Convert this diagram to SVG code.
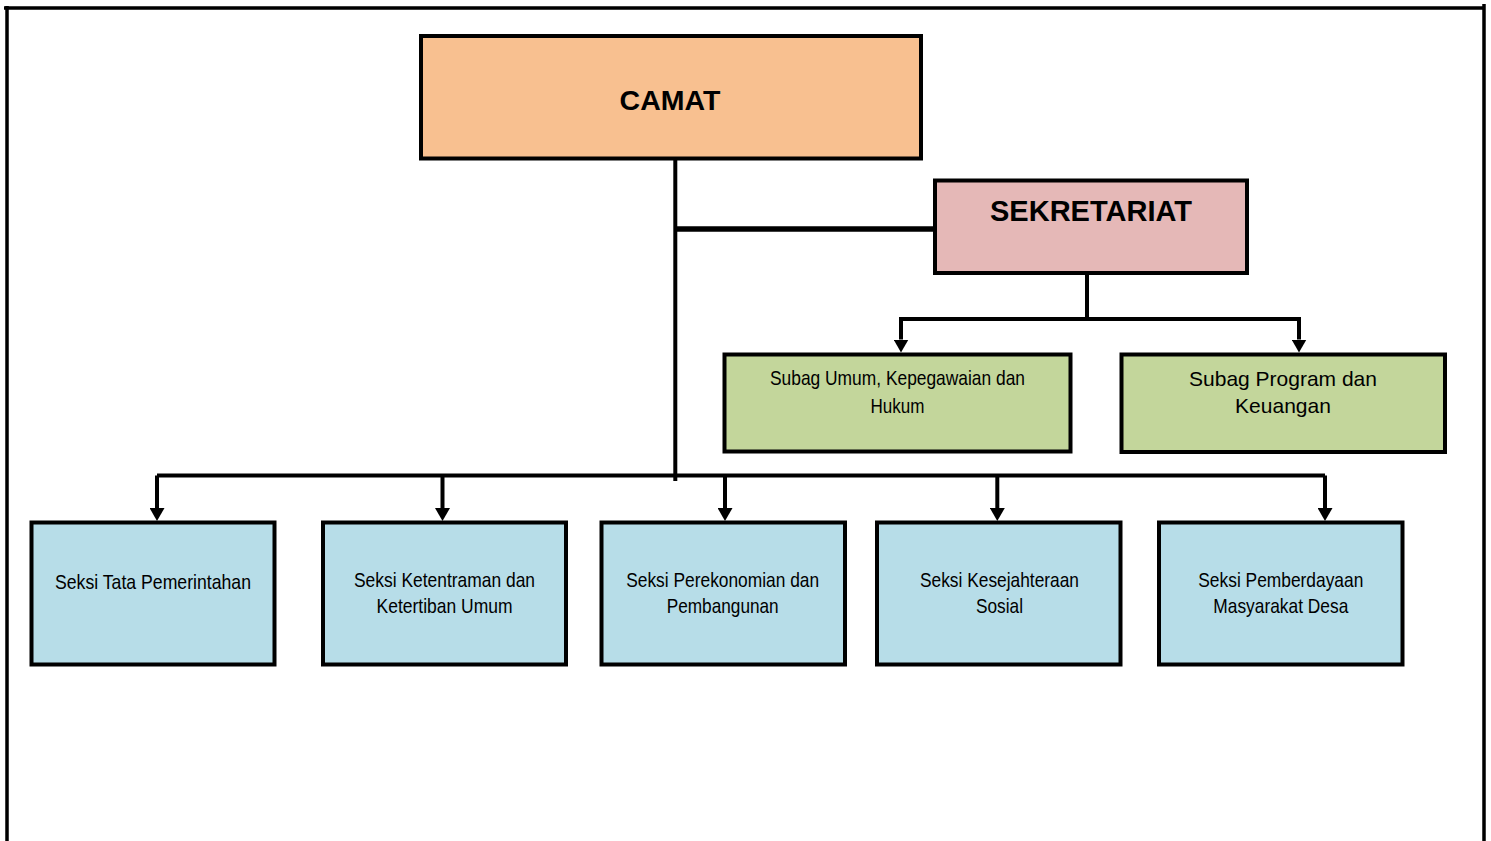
<svg xmlns="http://www.w3.org/2000/svg" width="1491" height="841" viewBox="0 0 1491 841">
<style>
.box{stroke:#000;stroke-width:4;stroke-linejoin:miter}
.camat{fill:#F8C090}
.sek{fill:#E5B8B7}
.subag{fill:#C3D69B}
.seksi{fill:#B7DDE8}
.title{font-family:"Liberation Sans",Arial,sans-serif;font-weight:bold;fill:#000;text-anchor:middle}
.narrow{font-family:"Liberation Sans Narrow","Liberation Sans",Arial,sans-serif;font-size:21px;fill:#000;text-anchor:middle}
.reg{font-family:"Liberation Sans",Arial,sans-serif;font-size:21px;fill:#000;text-anchor:middle}
.conn{fill:none;stroke:#000;stroke-width:4;stroke-linejoin:miter}
.frame{fill:none;stroke:#000;stroke-width:3.5}
</style>
<defs>
<marker id="arrow" markerUnits="userSpaceOnUse" viewBox="0 0 13 15" markerWidth="13" markerHeight="15" refX="0" refY="7.5" orient="auto">
<path d="M0,0 L13,7.5 L0,15 z" fill="#000"/>
</marker>
</defs>
<rect width="1491" height="841" fill="#fff"/>
<path class="frame" d="M4,8 H1485 M7,6 V841 M1484,4 V841"/>
<g id="connectors">
<path class="conn" d="M675.3,158 V481"/>
<path class="conn" style="stroke-width:5.5" d="M675,229 H935"/>
<path class="conn" d="M1087,273 V319"/>
<path class="conn" marker-end="url(#arrow)" d="M1087,319 H901 V339.5"/>
<path class="conn" marker-end="url(#arrow)" d="M1087,319 H1299 V339.5"/>
<path class="conn" d="M157,475.5 H1325"/>
<path class="conn" marker-end="url(#arrow)" d="M157,475.5 V508"/>
<path class="conn" marker-end="url(#arrow)" d="M442.5,475.5 V508"/>
<path class="conn" marker-end="url(#arrow)" d="M725,475.5 V508"/>
<path class="conn" marker-end="url(#arrow)" d="M997.3,475.5 V508"/>
<path class="conn" marker-end="url(#arrow)" d="M1325,475.5 V508"/>
</g>
<g id="camat">
<rect class="box camat" x="421" y="36" width="500" height="122.5"/>
<text class="title" x="670" y="110" font-size="28.5">CAMAT</text>
</g>
<g id="sekretariat">
<rect class="box sek" x="935" y="180.5" width="312" height="92.5"/>
<text class="title" x="1091" y="221" font-size="29">SEKRETARIAT</text>
</g>
<g id="subag-umum">
<rect class="box subag" x="724.5" y="354.5" width="346" height="97"/>
<text class="narrow" x="897.5" y="385" textLength="255" lengthAdjust="spacingAndGlyphs">Subag Umum, Kepegawaian dan</text>
<text class="narrow" x="897.5" y="412.5" textLength="54" lengthAdjust="spacingAndGlyphs">Hukum</text>
</g>
<g id="subag-program">
<rect class="box subag" x="1121.5" y="354.5" width="323.5" height="97.5"/>
<text class="reg" x="1283" y="386">Subag Program dan</text>
<text class="reg" x="1283" y="413">Keuangan</text>
</g>
<g id="seksi-tata">
<rect class="box seksi" x="31.5" y="522.5" width="243" height="142"/>
<text class="narrow" x="153" y="589" textLength="196" lengthAdjust="spacingAndGlyphs">Seksi Tata Pemerintahan</text>
</g>
<g id="seksi-ketentraman">
<rect class="box seksi" x="323" y="522.5" width="243" height="142"/>
<text class="narrow" x="444.5" y="587" textLength="181" lengthAdjust="spacingAndGlyphs">Seksi Ketentraman dan</text>
<text class="narrow" x="444.5" y="613" textLength="136" lengthAdjust="spacingAndGlyphs">Ketertiban Umum</text>
</g>
<g id="seksi-perekonomian">
<rect class="box seksi" x="601.5" y="522.5" width="243.5" height="142"/>
<text class="narrow" x="722.7" y="587" textLength="193" lengthAdjust="spacingAndGlyphs">Seksi Perekonomian dan</text>
<text class="narrow" x="722.7" y="613" textLength="112" lengthAdjust="spacingAndGlyphs">Pembangunan</text>
</g>
<g id="seksi-kesejahteraan">
<rect class="box seksi" x="877" y="522.5" width="243.5" height="142"/>
<text class="narrow" x="999.5" y="587" textLength="159" lengthAdjust="spacingAndGlyphs">Seksi Kesejahteraan</text>
<text class="narrow" x="999.5" y="613" textLength="47" lengthAdjust="spacingAndGlyphs">Sosial</text>
</g>
<g id="seksi-pemberdayaan">
<rect class="box seksi" x="1159" y="522.5" width="243.5" height="142"/>
<text class="narrow" x="1280.8" y="587" textLength="165" lengthAdjust="spacingAndGlyphs">Seksi Pemberdayaan</text>
<text class="narrow" x="1280.8" y="613" textLength="135" lengthAdjust="spacingAndGlyphs">Masyarakat Desa</text>
</g>
</svg>
